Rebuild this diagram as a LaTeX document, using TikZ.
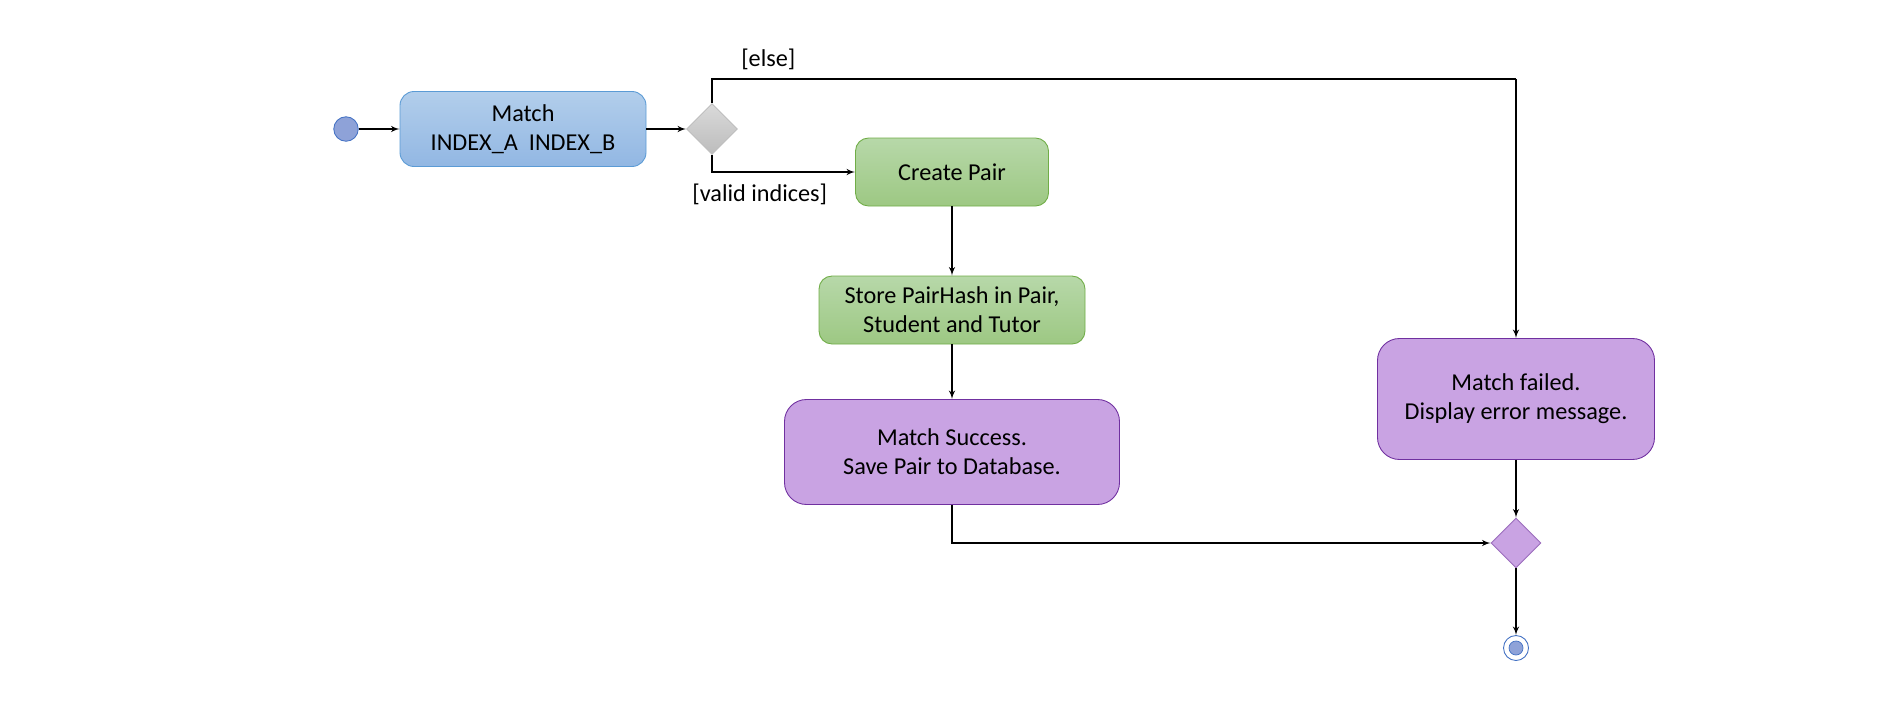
\documentclass[tikz,border=0pt]{standalone}
\usepackage{fontspec}
\setmainfont{Carlito}
\usetikzlibrary{shapes,arrows}
\definecolor{startfill}{RGB}{142,162,216}
\definecolor{startedge}{RGB}{68,114,196}
\definecolor{bluetop}{RGB}{178,206,235}
\definecolor{bluebot}{RGB}{146,183,227}
\definecolor{blueedge}{RGB}{91,155,213}
\definecolor{graytop}{RGB}{218,218,218}
\definecolor{graybot}{RGB}{188,188,188}
\definecolor{grayedge}{RGB}{191,191,191}
\definecolor{greentop}{RGB}{183,216,169}
\definecolor{greenbot}{RGB}{157,200,131}
\definecolor{greenedge}{RGB}{112,173,71}
\definecolor{purplefill}{RGB}{201,163,227}
\definecolor{purpleedge}{RGB}{112,48,160}
\tikzstyle{initial} = [circle, minimum size=0.49cm, inner sep=0pt, draw=startedge, fill=startfill, line width=0.5pt]
\tikzstyle{final} = [circle, minimum size=0.5cm, inner sep=0pt, draw=startedge, fill=white, line width=0.5pt]
\tikzstyle{finaldot} = [circle, minimum size=0.28cm, inner sep=0pt, draw=startedge, fill=startfill, line width=0.4pt]
\tikzstyle{blueblock} = [rectangle, rounded corners=0.28cm, align=center, minimum width=4.92cm, minimum height=1.5cm, draw=blueedge, top color=bluetop, bottom color=bluebot, line width=0.5pt]
\tikzstyle{greenblock} = [rectangle, rounded corners=0.26cm, align=center, minimum height=1.36cm, draw=greenedge, top color=greentop, bottom color=greenbot, line width=0.5pt]
\tikzstyle{purpleblock} = [rectangle, rounded corners=0.44cm, align=center, draw=purpleedge, fill=purplefill, line width=0.5pt]
\tikzstyle{choice} = [diamond, minimum size=1.02cm, inner sep=0pt, draw=grayedge, top color=graytop, bottom color=graybot, line width=0.5pt]
\tikzstyle{merge} = [diamond, minimum size=1.0cm, inner sep=0pt, draw=purpleedge!70, fill=purplefill, line width=0.5pt]
\tikzstyle{guard} = [inner sep=3pt]
\tikzstyle{turn} = [coordinate]

\begin{document}
\begin{tikzpicture}[auto, node distance=3.5cm, >=latex', line width=0.7pt, font=\fontsize{13.8}{16.5}\selectfont]
\useasboundingbox (0,0) rectangle (37.8,-14.4);
\node [initial] (start) at (6.92,-2.58) {};
\node [blueblock, right of=start, node distance=3.54cm] (match) {Match\\INDEX\_A\ \ INDEX\_B};
\node [choice, right of=match, node distance=3.78cm] (check) {};
\node [greenblock, minimum width=3.86cm, right of=check, node distance=4.8cm, yshift=-0.86cm] (createpair) {Create Pair};
\node [greenblock, minimum width=5.32cm, below of=createpair, node distance=2.76cm] (storehash) {Store PairHash in Pair,\\Student and Tutor};
\node [purpleblock, minimum width=6.7cm, minimum height=2.1cm, below of=storehash, node distance=2.84cm] (success) {Match Success.\\Save Pair to Database.};
\node [purpleblock, minimum width=5.54cm, minimum height=2.42cm, right of=success, node distance=11.28cm, yshift=1.06cm] (failed) {Match failed.\\Display error message.};
\node [merge, below of=failed, node distance=2.88cm] (join) {};
\node [final, below of=join, node distance=2.1cm] (stop) {};
\node [finaldot] at (stop.center) (stopdot) {};
\node [turn, above of=failed, node distance=6.4cm] (elseturn) {};

\draw [->] (start) -- (match);
\draw [->] (match) -- (check);
\draw [->] (check.south) |- node [guard, pos=0.667, below, yshift=-3.5pt] (validlbl) {[valid indices]} (createpair);
\draw [-] (check.north) |- node [guard, pos=0.535, above, yshift=2pt] (elselbl) {[else]} (elseturn);
\draw [->] (elseturn) -- (failed);
\draw [->] (createpair) -- (storehash);
\draw [->] (storehash) -- (success);
\draw [->] (success.south) |- (join);
\draw [->] (failed) -- (join);
\draw [->] (join) -- (stop);

\end{tikzpicture}
\end{document}
